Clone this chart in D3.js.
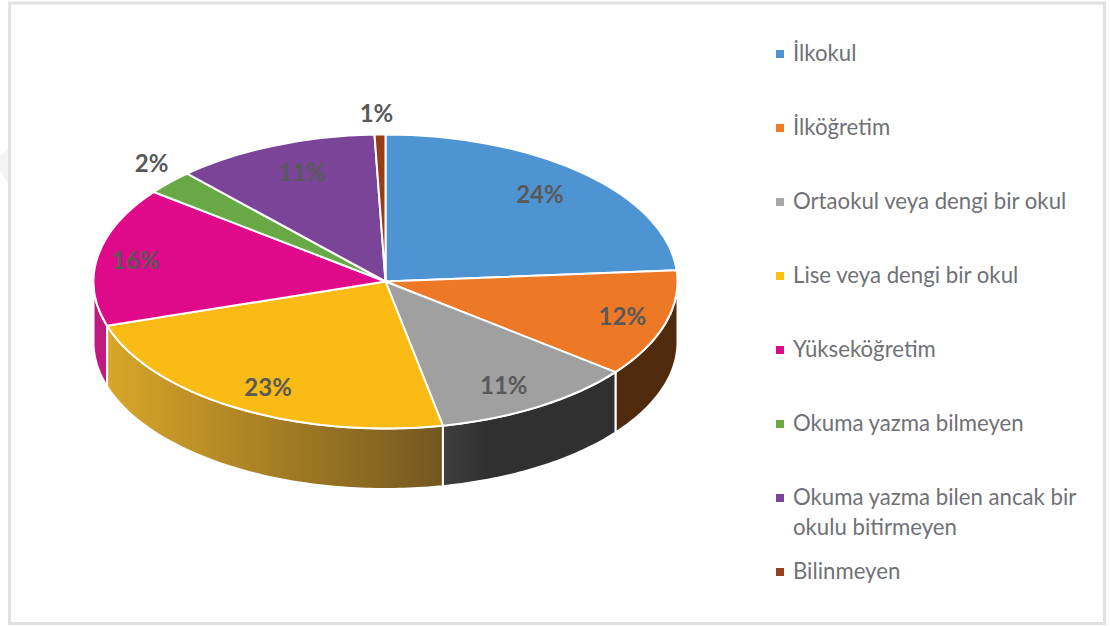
<!DOCTYPE html>
<html><head><meta charset="utf-8">
<script src="https://cdn.jsdelivr.net/npm/d3@7"></script>
<style>html,body{margin:0;padding:0;background:#fff;overflow:hidden}svg{display:block}</style>
</head><body><div id="c"></div>
<script>
const categories=["İlkokul","İlköğretim","Ortaokul veya dengi bir okul","Lise veya dengi bir okul","Yükseköğretim","Okuma yazma bilmeyen","Okuma yazma bilen ancak bir okulu bitirmeyen","Bilinmeyen"];
const values=[23.8,11.8,11.3,23.3,15.3,2.7,11.3,0.6];
const labels=["24%","12%","11%","23%","16%","2%","11%","1%"];
const colors=["#4f94d2","#ed7826","#a0a0a0","#fabb14","#e0098a","#68a945","#7a4599","#963f17"];
const legendLines=[["İlkokul"],["İlköğretim"],["Ortaokul veya dengi bir okul"],["Lise veya dengi bir okul"],["Yükseköğretim"],["Okuma yazma bilmeyen"],["Okuma yazma bilen ancak bir","okulu bitirmeyen"],["Bilinmeyen"]];
const legendMarkerColors=["#4f94d2","#f07d26","#a8a8ac","#fbbf14","#e0098a","#68a945","#7a4599","#9a3f1c"];
const labelFractions=[[.529,-.599],[.811,.231],[.405,.7],[-.402,.714],[-.856,-.15],[-.801,-.81],[-.286,-.748],[-.031,-1.15]];
const W=1110,H=626,cx=385.5,cy=281.5,rx=292,ry=147,depth=60.5;
const svg=d3.select("#c").append("svg").attr("width",W).attr("height",H);
const defs=svg.append("defs");
svg.append("path").attr("d",d3.line()([[0,156],[8,150],[12,184],[8,183],[0,170]])+"Z").attr("fill","#f3f3f3");
svg.append("rect").attr("x",9.5).attr("y",3).attr("width",1095).attr("height",620.5).attr("fill","#fff").attr("stroke","#e1e1e1").attr("stroke-width",3);

const arcs=d3.pie().sort(null).value(d=>d)(values);
const pt=t=>[cx+rx*Math.sin(t),cy-ry*Math.cos(t)];
const sideStops={1:[[0,"#4f2a0c"],[1,"#4f2a0c"]],2:[[0,"#3f3f3f"],[.25,"#2f302f"],[1,"#2f302f"]],3:[[0,"#d8a628"],[1,"#735720"]],4:[[0,"#c01a80"],[1,"#c01a80"]]};
const g=svg.append("g");
arcs.forEach((a,i)=>{
  const stops=sideStops[i]; if(!stops) return;
  const t0=Math.max(a.startAngle,Math.PI/2), t1=Math.min(a.endAngle,3*Math.PI/2);
  if(t1<=t0) return;
  const n=Math.ceil((t1-t0)*60), top=d3.range(n+1).map(k=>pt(t0+(t1-t0)*k/n));
  const bot=top.map(p=>[p[0],p[1]+depth]).reverse();
  const xs=top.map(p=>p[0]);
  const lg=defs.append("linearGradient").attr("id","side"+i).attr("gradientUnits","userSpaceOnUse")
    .attr("x1",d3.min(xs)).attr("x2",d3.max(xs)).attr("y1",0).attr("y2",0);
  lg.selectAll("stop").data(stops).join("stop").attr("offset",d=>d[0]).attr("stop-color",d=>d[1]);
  g.append("path").attr("d",d3.line()(top.concat(bot))+"Z").attr("fill",`url(#side${i})`)
   .attr("stroke","#fff").attr("stroke-width",2).attr("stroke-linejoin","round");
});
const arc=d3.arc().innerRadius(0).outerRadius(rx);
const face=svg.append("g").attr("transform",`translate(${cx},${cy}) scale(1,${ry/rx})`);
face.selectAll("path").data(arcs).join("path").attr("d",arc).attr("fill",(d,i)=>colors[i])
  .attr("stroke","#fff").attr("stroke-width",2).attr("stroke-linejoin","round").style("vector-effect","non-scaling-stroke");
svg.append("g").selectAll("text").data(labels).join("text")
  .attr("x",(d,i)=>cx+labelFractions[i][0]*rx).attr("y",(d,i)=>cy+labelFractions[i][1]*ry)
  .attr("text-anchor","middle").attr("dominant-baseline","central")
  .attr("font-family","Lato, sans-serif").attr("font-weight",700).attr("font-size",24).attr("fill","#595959").text(d=>d);
const rowY=d3.scalePoint().domain(d3.range(6)).range([52,422]);
const legendY=i=>i<6?rowY(i):(i==6?496:570);
const lg=svg.append("g").selectAll("g").data(categories).join("g").attr("transform",(d,i)=>`translate(0,${legendY(i)})`);
lg.append("rect").attr("x",776).attr("y",-2).attr("width",8).attr("height",8).attr("fill",(d,i)=>legendMarkerColors[i]);
lg.each(function(d,i){
  d3.select(this).selectAll("text").data(legendLines[i]).join("text").attr("x",793).attr("y",(l,k)=>k*30)
   .attr("dominant-baseline","central").attr("font-family","Lato, sans-serif").attr("font-size",22.2).attr("fill","#6f7176").text(l=>l);
});
</script></body></html>
